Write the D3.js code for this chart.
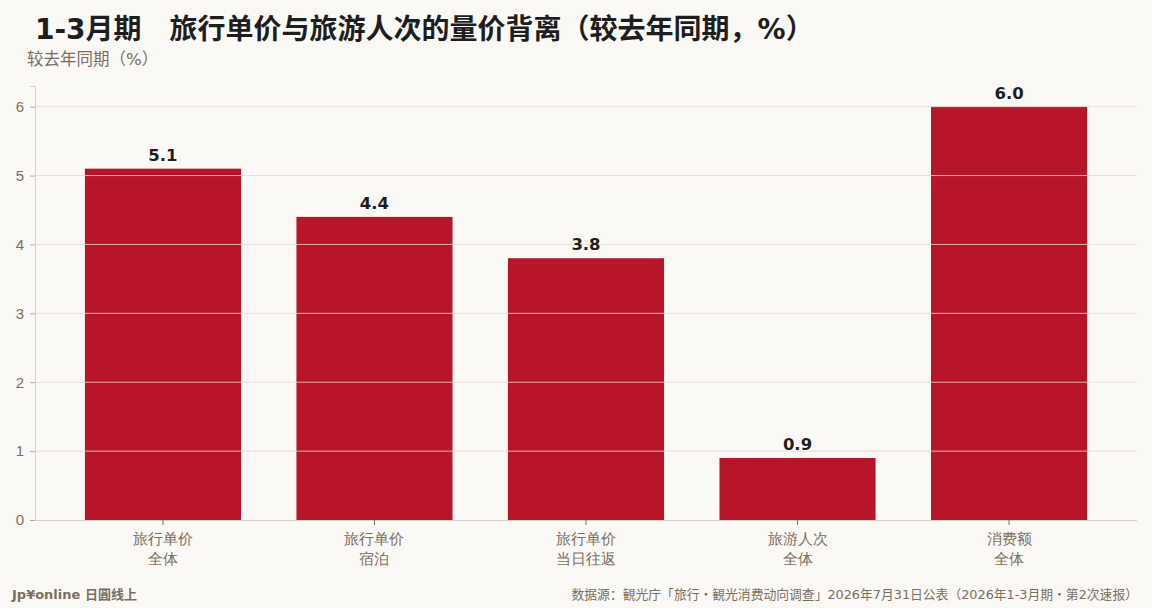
<!DOCTYPE html>
<html><head><meta charset="utf-8">
<script src="https://cdn.jsdelivr.net/npm/d3@7/dist/d3.min.js"></script>
<style>
html,body{margin:0;padding:0;background:#fbf9f6;}
svg{display:block;font-family:"DejaVu Sans","Noto Sans CJK SC",sans-serif;}
</style></head>
<body>
<svg id="c" width="1152" height="608"></svg>
<script>
const categories = [["旅行单价","全体"],["旅行单价","宿泊"],["旅行单价","当日往返"],["旅游人次","全体"],["消费额","全体"]];
const values = [5.1, 4.4, 3.8, 0.9, 6.0];
const yTicks = [0,1,2,3,4,5,6];
const title = "1-3月期　旅行单价与旅游人次的量价背离（较去年同期，%）";
const yLabel = "较去年同期（%）";
const brand = "Jp¥online 日圓线上";
const source = "数据源：観光庁「旅行・観光消费动向调查」2026年7月31日公表（2026年1-3月期・第2次速报）";

const W = 1152, H = 608;
const m = {l:35, r:15, t:86, b:88};
const svg = d3.select("#c");
svg.append("rect").attr("width",W).attr("height",H).attr("fill","#fbf9f6");

const x = d3.scaleBand().domain(d3.range(categories.length)).range([m.l, W-m.r]).paddingInner(0.262).paddingOuter(0.236);
const y = d3.scaleLinear().domain([0,6.3]).range([H-m.b, m.t]);

const bars = svg.append("g");
bars.selectAll("rect").data(values).join("rect")
  .attr("x",(d,i)=>x(i)).attr("width",x.bandwidth())
  .attr("y",d=>y(d)).attr("height",d=>y(0)-y(d))
  .attr("fill","#b8152b");

// gridlines on top
svg.append("g").selectAll("line").data(yTicks.filter(t=>t>0)).join("line")
  .attr("x1",m.l).attr("x2",W-m.r).attr("y1",d=>y(d)).attr("y2",d=>y(d))
  .attr("stroke","#e6d8d2").attr("stroke-opacity",0.8).attr("stroke-width",1);

// y axis
const ya = svg.append("g").attr("transform",`translate(${m.l},0)`)
  .call(d3.axisLeft(y).tickValues(yTicks).tickFormat(d3.format("d")).tickSize(5).tickPadding(6));
ya.select(".domain").attr("stroke","#d8cfc6");
ya.selectAll(".tick line").attr("stroke","#b8ab9e");
ya.selectAll(".tick text").attr("fill","#7a6e60").attr("font-size",15);

// x axis
const xa = svg.append("g").attr("transform",`translate(0,${y(0)})`)
  .call(d3.axisBottom(x).tickSize(5).tickFormat(""));
xa.select(".domain").attr("stroke","#d8cfc6").attr("d",`M${m.l},0.5H${W-m.r}`);
xa.selectAll(".tick line").attr("stroke","#7a6e60");
xa.selectAll(".tick").each(function(d){
  const t = d3.select(this).append("text").attr("fill","#7a6e60").attr("font-size",15).attr("text-anchor","middle");
  t.append("tspan").attr("x",0).attr("y",24).text(categories[d][0]);
  t.append("tspan").attr("x",0).attr("y",44).text(categories[d][1]);
});

// value labels
svg.append("g").selectAll("text").data(values).join("text")
  .attr("x",(d,i)=>x(i)+x.bandwidth()/2).attr("y",d=>y(d)-8)
  .attr("text-anchor","middle").attr("font-size",16.5).attr("font-weight","bold").attr("fill","#1e1e1e")
  .text(d=>d.toFixed(1));

// titles
svg.append("text").attr("x",35).attr("y",39).attr("font-size",28).attr("font-weight","bold").attr("fill","#1e1e1e").text(title);
svg.append("text").attr("x",27).attr("y",65).attr("font-size",16.5).attr("fill","#7a6e60").text(yLabel);

// footer
svg.append("text").attr("x",12).attr("y",599).attr("font-size",13).attr("font-weight","bold").attr("fill","#7a6e60").text(brand);
svg.append("text").attr("x",1138).attr("y",599).attr("text-anchor","end").attr("font-size",12.8).attr("fill","#7a6e60").text(source);
</script>
</body></html>
